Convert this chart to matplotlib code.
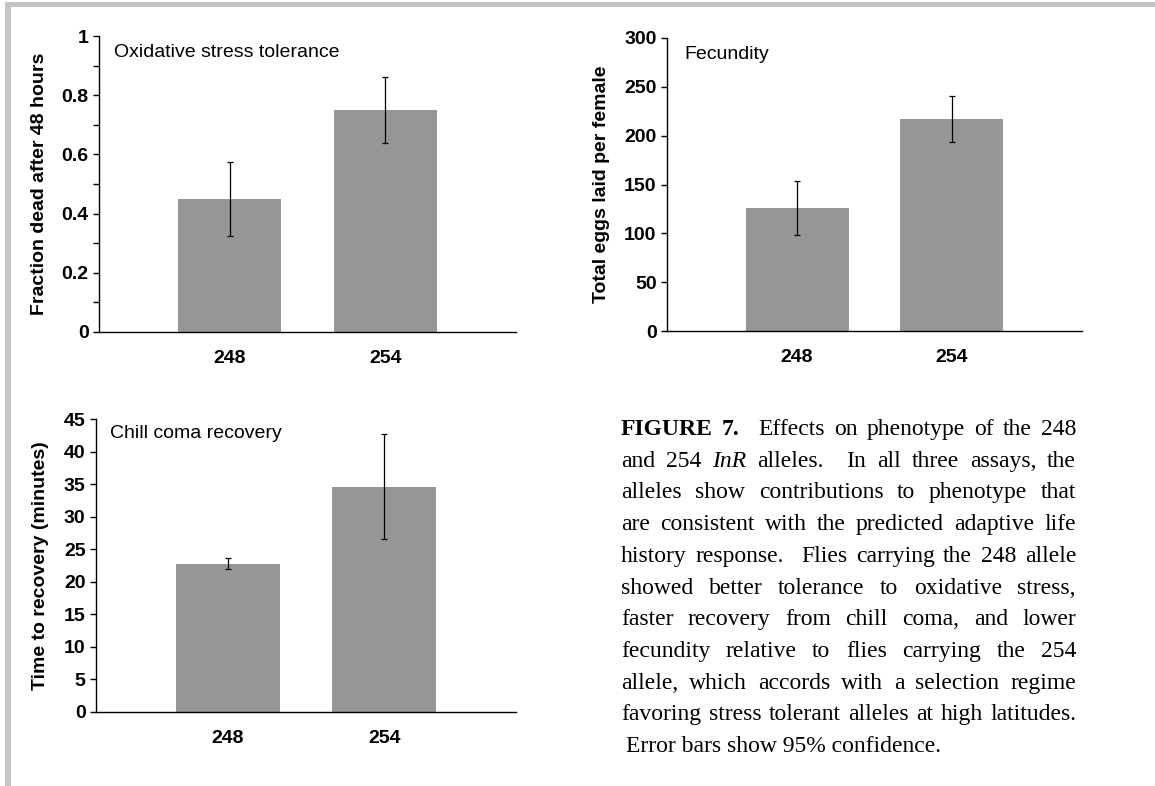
import matplotlib
matplotlib.use("Agg")
import matplotlib.pyplot as plt
from matplotlib.patches import Rectangle

# allele groups
alleles = ["248", "254"]

# oxidative stress: fraction dead after 48 h, with 95% CI half-widths
oxid_mean = [0.45, 0.75]
oxid_ci = [0.125, 0.11]

# fecundity: total eggs per female
fec_mean = [126, 217]
fec_ci = [28, 23.5]

# chill coma recovery time (minutes)
chill_mean = [22.8, 34.6]
chill_ci = [0.8, 8.1]

caption_lines = [
    [("FIGURE", "b", 1), ("7.", "b", 2), ("Effects", "n", 1), ("on", "n", 1), ("phenotype", "n", 1),
     ("of", "n", 1), ("the", "n", 1), ("248", "n", 0)],
    [("and", "n", 1), ("254", "n", 1), ("InR", "i", 1), ("alleles.", "n", 2), ("In", "n", 1), ("all", "n", 1),
     ("three", "n", 1), ("assays,", "n", 1), ("the", "n", 0)],
    [("alleles", "n", 1), ("show", "n", 1), ("contributions", "n", 1), ("to", "n", 1), ("phenotype", "n", 1),
     ("that", "n", 0)],
    [("are", "n", 1), ("consistent", "n", 1), ("with", "n", 1), ("the", "n", 1), ("predicted", "n", 1),
     ("adaptive", "n", 1), ("life", "n", 0)],
    [("history", "n", 1), ("response.", "n", 2), ("Flies", "n", 1), ("carrying", "n", 1), ("the", "n", 1),
     ("248", "n", 1), ("allele", "n", 0)],
    [("showed", "n", 1), ("better", "n", 1), ("tolerance", "n", 1), ("to", "n", 1), ("oxidative", "n", 1),
     ("stress,", "n", 0)],
    [("faster", "n", 1), ("recovery", "n", 1), ("from", "n", 1), ("chill", "n", 1), ("coma,", "n", 1),
     ("and", "n", 1), ("lower", "n", 0)],
    [("fecundity", "n", 1), ("relative", "n", 1), ("to", "n", 1), ("flies", "n", 1), ("carrying", "n", 1),
     ("the", "n", 1), ("254", "n", 0)],
    [("allele,", "n", 1), ("which", "n", 1), ("accords", "n", 1), ("with", "n", 1), ("a", "n", 1),
     ("selection", "n", 1), ("regime", "n", 0)],
    [("favoring", "n", 1), ("stress", "n", 1), ("tolerant", "n", 1), ("alleles", "n", 1), ("at", "n", 1),
     ("high", "n", 1), ("latitudes.", "n", 0)],
]
caption_last = "Error bars show 95% confidence."

W, H = 1155, 786
BAR_COLOR = "#969696"
SANS = "Liberation Sans"
SERIF = "Liberation Serif"
FS = 14

plt.rcParams["font.family"] = SANS

fig = plt.figure(figsize=(W / 100, H / 100), dpi=100)


def px_axes(left, right, top, bottom):
    return fig.add_axes([left / W, (H - bottom) / H, (right - left) / W, (bottom - top) / H])


def bar_panel(ax, means, ci, ylim, major, minor, ylabel, title, title_xy, lab_x):
    x = list(range(len(alleles)))
    ax.bar(x, means, width=0.665, color=BAR_COLOR, edgecolor="none", zorder=2)
    ax.errorbar(x, means, yerr=ci, fmt="none", ecolor="black", elinewidth=0.9,
                capsize=2.2, capthick=0.9, zorder=3)
    ax.set_xlim(-0.84, 1.84)
    ax.set_ylim(*ylim)
    ax.set_xticks(x)
    ax.set_xticklabels(alleles, fontsize=FS, fontweight="bold")
    ax.set_yticks(major)
    if minor is not None:
        ax.set_yticks(minor, minor=True)
    ax.tick_params(axis="y", which="both", direction="out", length=4.5, width=1.0,
                   labelsize=FS, pad=3)
    ax.tick_params(axis="x", length=0, pad=13)
    for lbl in ax.get_yticklabels():
        lbl.set_fontweight("bold")
    for s in ("top", "right"):
        ax.spines[s].set_visible(False)
    for s in ("left", "bottom"):
        ax.spines[s].set_linewidth(1.0)
        ax.spines[s].set_color("black")
    ax.set_ylabel(ylabel, fontsize=FS, fontweight="bold", va="center")
    ax.yaxis.set_label_coords(lab_x, 0.5)
    ax.text(title_xy[0], title_xy[1], title, transform=ax.transAxes, fontsize=FS,
            ha="left", va="center")


# oxidative stress
ax1 = px_axes(99, 516, 36, 332)
bar_panel(ax1, oxid_mean, oxid_ci, (0, 1), [0, 0.2, 0.4, 0.6, 0.8, 1],
          [0.1, 0.3, 0.5, 0.7, 0.9], "Fraction dead after 48 hours",
          "Oxidative stress tolerance", (0.036, 0.943), -0.142)
ax1.set_yticklabels(["0", "0.2", "0.4", "0.6", "0.8", "1"])

# fecundity
ax2 = px_axes(667, 1082, 38, 331)
bar_panel(ax2, fec_mean, fec_ci, (0, 300), list(range(0, 301, 50)), None,
          "Total eggs laid per female", "Fecundity", (0.041, 0.942), -0.157)

# chill coma
ax3 = px_axes(96, 516, 419, 712)
bar_panel(ax3, chill_mean, chill_ci, (0, 45), list(range(0, 46, 5)), None,
          "Time to recovery (minutes)", "Chill coma recovery", (0.033, 0.949), -0.133)

# light gray frame on top and left edges
fig.add_artist(Rectangle((5 / W, (H - 7) / H), (W - 5) / W, 5 / H, transform=fig.transFigure,
                         facecolor="#c4c4c4", edgecolor="none"))
fig.add_artist(Rectangle((5 / W, 0), 6 / W, (H - 2) / H, transform=fig.transFigure,
                         facecolor="#c4c4c4", edgecolor="none"))

# justified caption block
CAP_FS = 17
LEFT, RIGHT = 621, 1076
BASE0, LEAD = 435, 31.7
renderer = fig.canvas.get_renderer()
styles = {"n": dict(weight="normal", style="normal"),
          "b": dict(weight="bold", style="normal"),
          "i": dict(weight="normal", style="italic")}

for i, line in enumerate(caption_lines):
    yb = (H - (BASE0 + i * LEAD)) / H
    texts = []
    for word, st, gap in line:
        t = fig.text(0, yb, word, fontsize=CAP_FS, family=SERIF, va="baseline", ha="left",
                     fontweight=styles[st]["weight"], fontstyle=styles[st]["style"])
        texts.append((t, t.get_window_extent(renderer).width, gap))
    total = sum(w for _, w, _ in texts)
    units = sum(g for _, _, g in texts)
    unit = (RIGHT - LEFT - total) / units
    xpos = LEFT
    for t, w, g in texts:
        t.set_x(xpos / W)
        xpos += w + g * unit

fig.text((LEFT + 5) / W, (H - (BASE0 + len(caption_lines) * LEAD)) / H, caption_last,
         fontsize=CAP_FS, family=SERIF, va="baseline", ha="left")

fig.savefig("out.png", dpi=100)
